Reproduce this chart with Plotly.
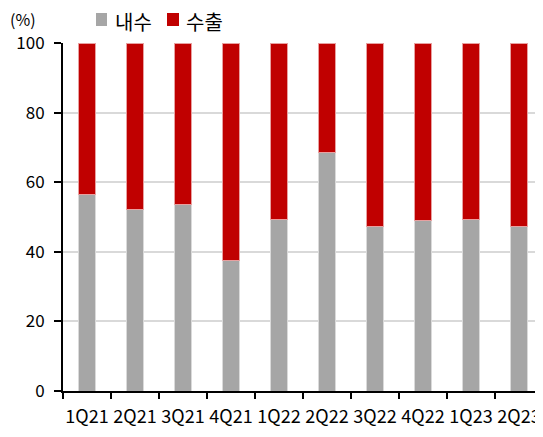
import plotly.graph_objects as go

quarters = ["1Q21", "2Q21", "3Q21", "4Q21", "1Q22", "2Q22", "3Q22", "4Q22", "1Q23", "2Q23"]
domestic = [56.4, 52.3, 53.5, 37.4, 49.2, 68.4, 47.2, 48.9, 49.2, 47.2]
export = [round(100 - v, 1) for v in domestic]
series_names = ["내수", "수출"]
series_colors = ["#A6A6A6", "#C00000"]

FONT = "Noto Sans CJK KR, Noto Sans, sans-serif"

fig = go.Figure()
fig.add_bar(x=quarters, y=domestic, name=series_names[0], showlegend=False,
            marker=dict(color=series_colors[0], line=dict(color="#DADADA", width=1)))
fig.add_bar(x=quarters, y=export, name=series_names[1], showlegend=False,
            marker=dict(color=series_colors[1], line=dict(color="#E8A0A0", width=1)))

# page body has an 8px margin; the figure is sized to fit the 543x437 window
fig.update_layout(
    width=535, height=429,
    barmode="stack", bargap=0.63,
    paper_bgcolor="white", plot_bgcolor="white",
    margin=dict(l=55, r=0, t=35, b=46, autoexpand=False),
    font=dict(family=FONT, size=17, color="#000000"),
    showlegend=False,
)
fig.update_xaxes(type="category", showline=True, linecolor="#000000", linewidth=2,
                 ticks="outside", tickson="boundaries", ticklen=6, tickwidth=1.5,
                 tickcolor="#000000", showgrid=False, tickfont=dict(size=18),
                 tickangle=0, ticklabelstandoff=8, automargin=False)
fig.update_yaxes(range=[0, 100], dtick=20, showline=True, linecolor="#000000", linewidth=2,
                 ticks="outside", ticklen=7, tickwidth=1.5, tickcolor="#000000",
                 showgrid=True, gridcolor="#D9D9D9", gridwidth=2, zeroline=False,
                 tickfont=dict(size=17), ticklabelstandoff=6, automargin=False)

# custom legend
leg = [(0.06875, 0.0917, 0.104), (0.2167, 0.2417, 0.2521)]
for (x0, x1, tx), name, col in zip(leg, series_names, series_colors):
    fig.add_shape(type="rect", xref="paper", yref="paper", x0=x0, x1=x1,
                  y0=1.0489, y1=1.0862, fillcolor=col, line=dict(width=0))
    fig.add_annotation(text=name, xref="paper", yref="paper", x=tx, y=1.062,
                       xanchor="left", yanchor="middle", showarrow=False,
                       font=dict(size=20))

fig.add_annotation(text="(%)", xref="paper", yref="paper", x=-0.1146, y=1.069,
                   xanchor="left", yanchor="middle", showarrow=False,
                   font=dict(size=16))
fig.write_html("out.html")
